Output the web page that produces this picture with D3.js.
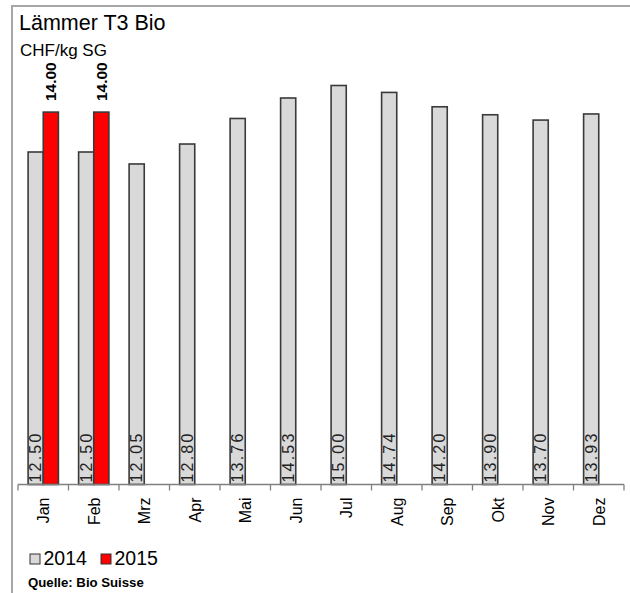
<!DOCTYPE html>
<html>
<head>
<meta charset="utf-8">
<script src="https://cdn.jsdelivr.net/npm/d3@7"></script>
<style>
  html, body { margin: 0; padding: 0; background: #fff; }
  svg { display: block; font-family: "Liberation Sans", Arial, sans-serif; }
</style>
</head>
<body>
<div id="chart"></div>
<script>
// Lämmer T3 Bio — Monatspreise 2014 vs 2015

const months = ["Jan", "Feb", "Mrz", "Apr", "Mai", "Jun", "Jul", "Aug", "Sep", "Okt", "Nov", "Dez"];
const years = ["2014", "2015"];
const values2014 = [12.50, 12.50, 12.05, 12.80, 13.76, 14.53, 15.00, 14.74, 14.20, 13.90, 13.70, 13.93];
const values2015 = [14.00, 14.00];
const yDomain = [0, 18];

const width = 630, height = 593;
const colors = { "2014": "#d9d9d9", "2015": "#ff0000" };

const svg = d3.select("#chart").append("svg")
  .attr("width", width).attr("height", height);

// frame
svg.append("rect")
  .attr("x", 12).attr("y", 6).attr("width", 640).attr("height", 620)
  .attr("fill", "none").attr("stroke", "#a6a6a6").attr("stroke-width", 2);

const x = d3.scaleBand().domain(months).range([18, 624]);
const bw = x.bandwidth();
const x1 = d3.scaleBand().domain(years).range([bw * 0.2, bw * 0.8]);
const y = d3.scaleLinear().domain(yDomain).range([484.5, 5.7]);

const rows = [];
months.forEach((m, i) => {
  rows.push({ month: m, year: "2014", value: values2014[i] });
  if (values2015[i] != null) rows.push({ month: m, year: "2015", value: values2015[i] });
});
const barMid = d => x(d.month) + x1(d.year) + x1.bandwidth() / 2;

// bars
svg.append("g").selectAll("rect").data(rows).join("rect")
  .attr("x", d => x(d.month) + x1(d.year))
  .attr("y", d => y(d.value))
  .attr("width", x1.bandwidth())
  .attr("height", d => y(0) - y(d.value))
  .attr("fill", d => colors[d.year])
  .attr("stroke", "#3a3a3a").attr("stroke-width", 1.6);

// labels inside 2014 bars, reading bottom-up
svg.append("g").selectAll("text").data(rows.filter(d => d.year === "2014")).join("text")
  .attr("transform", d => `translate(${barMid(d)},${y(0) - 2}) rotate(-90)`)
  .attr("dy", "0.36em")
  .attr("font-size", 16).attr("letter-spacing", 2.2)
  .attr("fill", "#222")
  .text(d => d.value.toFixed(2));

// bold labels above 2015 bars
svg.append("g").selectAll("text").data(rows.filter(d => d.year === "2015")).join("text")
  .attr("transform", d => `translate(${barMid(d)},${y(d.value) - 11}) rotate(-90)`)
  .attr("dy", "0.36em")
  .attr("font-size", 15.5).attr("font-weight", "bold")
  .text(d => d.value.toFixed(2));

// x axis: baseline + ticks at band edges
const axis = svg.append("g").attr("stroke", "#808080").attr("stroke-width", 1.3);
axis.append("line")
  .attr("x1", x.range()[0]).attr("x2", x.range()[1])
  .attr("y1", y(0)).attr("y2", y(0));
axis.selectAll("line.tick").data(d3.range(months.length + 1)).join("line").attr("class", "tick")
  .attr("x1", i => x.range()[0] + i * x.step())
  .attr("x2", i => x.range()[0] + i * x.step())
  .attr("y1", y(0)).attr("y2", y(0) + 6);

svg.append("g").selectAll("text").data(months).join("text")
  .attr("transform", d => `translate(${x(d) + bw / 2},${y(0) + 13}) rotate(-90)`)
  .attr("text-anchor", "end").attr("dy", "0.36em")
  .attr("font-size", 16)
  .text(d => d);

// titles
svg.append("text").attr("x", 19).attr("y", 29.5).attr("font-size", 21.5).text("Lämmer T3 Bio");
svg.append("text").attr("x", 20).attr("y", 55.5).attr("font-size", 17).text("CHF/kg SG");

// legend
const leg = svg.append("g").attr("transform", "translate(30,554)");
years.forEach((yr, i) => {
  const g = leg.append("g").attr("transform", `translate(${i * 71},0)`);
  g.append("rect").attr("width", 10).attr("height", 10)
    .attr("fill", colors[yr]).attr("stroke", "#333").attr("stroke-width", 1);
  g.append("text").attr("x", 13.5).attr("y", 11).attr("font-size", 19.5).text(yr);
});

svg.append("text").attr("x", 28).attr("y", 587)
  .attr("font-size", 13.2).attr("font-weight", "bold").text("Quelle: Bio Suisse");
</script>
</body>
</html>
